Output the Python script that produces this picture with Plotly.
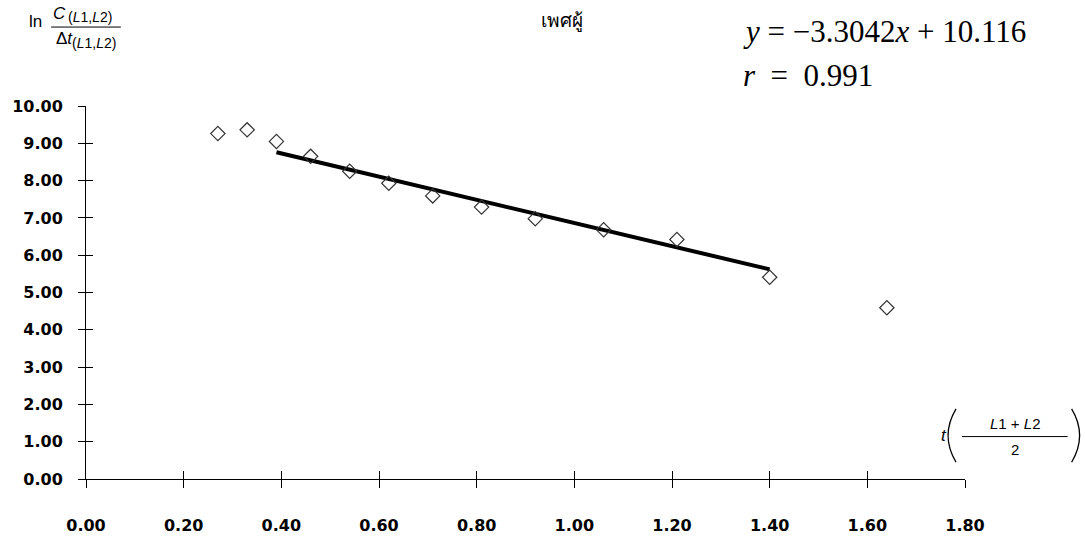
import plotly.graph_objects as go

# ---- data ----
x_vals = [0.27, 0.33, 0.39, 0.46, 0.54, 0.62, 0.71, 0.81, 0.92, 1.06, 1.21, 1.40, 1.64]
y_vals = [9.26, 9.36, 9.05, 8.65, 8.25, 7.93, 7.59, 7.29, 6.98, 6.68, 6.42, 5.41, 4.59]
trend_x = [0.39, 1.40]
trend_y = [8.76, 5.62]
x_ticks = [0.0, 0.2, 0.4, 0.6, 0.8, 1.0, 1.2, 1.4, 1.6, 1.8]
y_ticks = [0, 1, 2, 3, 4, 5, 6, 7, 8, 9, 10]
title_text = "เพศผู้"
eq_text = "<i>y</i> = −3.3042<i>x</i> + 10.116"
r_text = "<i>r</i>\u00a0\u00a0=\u00a0\u00a00.991"

W, H = 1085, 547
L, R, T, B = 83, 965, 106, 484   # plot area in window pixels


def px(xp):
    return (xp - L) / (R - L)


def py(yp):
    return (B - yp) / (B - T)


fig = go.Figure()
fig.add_trace(go.Scatter(x=trend_x, y=trend_y, mode="lines",
                         line=dict(color="black", width=4), showlegend=False))
fig.add_trace(go.Scatter(x=x_vals, y=y_vals, mode="markers",
                         marker=dict(symbol="diamond-open", size=11,
                                     color="#333333", line=dict(width=1.2)),
                         showlegend=False))
# dummy trace for overlay axes (cross ticks)
fig.add_trace(go.Scatter(x=[None], y=[None], xaxis="x2", yaxis="y2",
                         showlegend=False, hoverinfo="skip"))

tickfont = dict(family="DejaVu Sans, Arial, sans-serif", size=16,
                color="black", weight="bold")
fig.update_layout(
    width=W, height=H,
    margin=dict(l=L, r=W - R, t=T, b=H - B, pad=0),
    paper_bgcolor="white", plot_bgcolor="white",
    xaxis=dict(range=[0, 1.8], tickvals=x_ticks, tickformat=".2f",
               showgrid=False, zeroline=False, showline=True,
               linecolor="black", linewidth=1, ticks="outside",
               ticklen=8, tickcolor="black", tickwidth=1,
               tickfont=tickfont, ticklabelstandoff=24),
    yaxis=dict(range=[0, 10], tickvals=y_ticks, tickformat=".2f",
               showgrid=False, zeroline=False, showline=True,
               linecolor="black", linewidth=1, ticks="outside",
               ticklen=7, tickcolor="black", tickwidth=1,
               tickfont=tickfont, ticklabelstandoff=12),
    xaxis2=dict(range=[0, 1.8], tickvals=x_ticks, overlaying="x",
                anchor="y", showgrid=False, zeroline=False, showline=False,
                ticks="inside", ticklen=8, tickcolor="black",
                showticklabels=False),
    yaxis2=dict(range=[0, 10], tickvals=y_ticks, overlaying="y",
                anchor="x", showgrid=False, zeroline=False, showline=False,
                ticks="inside", ticklen=7, tickcolor="black",
                showticklabels=False),
)

serif = "Liberation Serif, Times New Roman, serif"
sans = "Liberation Sans, Arial, sans-serif"


def txt(xp, yp, text, size, family=sans, xanchor="center"):
    return dict(x=px(xp), y=py(yp), xref="paper", yref="paper",
                xanchor=xanchor, yanchor="middle", text=text,
                showarrow=False,
                font=dict(family=family, size=size, color="black"))


ann = [
    # chart title
    txt(561, 20, title_text, 19),
    # equation and r
    txt(740, 30, eq_text, 31, serif, "left"),
    txt(740, 75, r_text, 31, serif, "left"),
    # y-axis title: ln C(L1,L2) / Δt(L1,L2)
    txt(32, 20, "ln", 17),
    txt(56, 12, "<i>C</i>", 17),
    txt(87, 16, "(<i>L</i>1,<i>L</i>2)", 14),
    txt(61, 38, "Δ<i>t</i>", 17),
    txt(91, 42, "(<i>L</i>1,<i>L</i>2)", 14),
    # x-axis title: t((L1+L2)/2)
    txt(944, 440, "<i>t</i>", 17),
    txt(1015, 428, "<i>L</i>1 + <i>L</i>2", 15),
    txt(1015, 454, "2", 15),
]
fig.update_layout(annotations=ann)


def pth(points):
    (x0, y0), (xc, yc), (x1, y1) = points
    return "M {:.5f},{:.5f} Q {:.5f},{:.5f} {:.5f},{:.5f}".format(
        px(x0), py(y0), px(xc), py(yc), px(x1), py(y1))


# fraction bars
fig.add_shape(type="line", xref="paper", yref="paper",
              x0=px(48), x1=px(118), y0=py(26), y1=py(26),
              line=dict(color="black", width=1))
fig.add_shape(type="line", xref="paper", yref="paper",
              x0=px(962), x1=px(1068), y0=py(441), y1=py(441),
              line=dict(color="black", width=1))
# thin large parentheses around the x-axis fraction
fig.add_shape(type="path", xref="paper", yref="paper",
              path=pth([(956, 413), (940, 440), (956, 467)]),
              line=dict(color="black", width=1.3))
fig.add_shape(type="path", xref="paper", yref="paper",
              path=pth([(1072, 413), (1088, 440), (1072, 467)]),
              line=dict(color="black", width=1.3))

# remove the default page margin so the figure fills the window
fig.write_html("out.html",
               config={"displayModeBar": False},
               post_script="document.body.style.margin='0px';"
                           "document.body.style.overflow='hidden';")
